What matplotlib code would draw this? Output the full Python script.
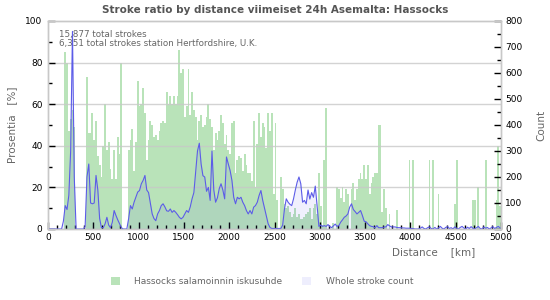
import numpy as np
import matplotlib
matplotlib.use("Agg")
import matplotlib.pyplot as plt
from matplotlib.patches import Patch
from matplotlib.ticker import MultipleLocator

plt.rcParams['font.family'] = ['DejaVu Sans']

title = "Stroke ratio by distance viimeiset 24h Asemalta: Hassocks"
note_lines = ["15,877 total strokes", "6,351 total strokes station Hertfordshire, U.K."]
series_ratio_name = "Hassocks salamoinnin iskusuhde"
series_count_name = "Whole stroke count"

bin_km = 20
# ratio [%] per 20 km bin, 0 .. 5000 km
ratio_pct = [
    0, 0, 0, 0, 0, 0, 0, 0, 0, 85, 80, 47, 53, 57, 49, 0, 0, 0, 0, 0, 0, 73, 46, 46, 56,
    43, 52, 35, 31, 25, 40, 60, 38, 42, 29, 24, 38, 24, 44, 36, 80, 0, 0, 0, 38, 43, 48, 28, 42, 71,
    59, 60, 68, 56, 33, 43, 52, 50, 44, 45, 43, 47, 51, 52, 51, 66, 60, 64, 60, 64, 60, 64, 86, 75, 77,
    54, 59, 77, 55, 66, 57, 54, 43, 52, 55, 49, 50, 54, 60, 53, 49, 38, 46, 43, 47, 55, 51, 41, 45, 38,
    36, 51, 52, 27, 33, 35, 34, 28, 36, 31, 27, 27, 23, 52, 20, 41, 56, 44, 51, 49, 39, 56, 47, 56, 17,
    51, 14, 0, 25, 19, 12, 10, 11, 8, 6, 7, 10, 6, 7, 5, 5, 6, 7, 8, 10, 5, 10, 12, 7, 27,
    11, 2, 33, 58, 0, 0, 0, 3, 0, 20, 19, 15, 20, 13, 19, 17, 0, 19, 22, 14, 19, 24, 27, 24, 31,
    24, 31, 17, 22, 25, 27, 27, 50, 50, 8, 19, 10, 0, 7, 0, 0, 0, 9, 0, 0, 0, 0, 0, 0, 33,
    0, 33, 0, 0, 0, 0, 0, 0, 0, 0, 33, 0, 33, 0, 0, 17, 0, 0, 0, 0, 0, 0, 0, 0, 12,
    33, 0, 0, 0, 0, 0, 0, 0, 0, 14, 14, 0, 20, 0, 0, 0, 33, 0, 0, 0, 0, 0, 14, 40, 11,
]
# whole stroke count per 20 km bin
stroke_count = [
    0, 0, 0, 0, 0, 0, 0, 0, 30, 90, 75, 130, 300, 760, 200, 0, 0, 0, 0, 0, 10, 200, 250, 100, 97,
    100, 206, 150, 40, 5, 5, 20, 45, 15, 5, 26, 71, 52, 35, 20, 5, 0, 0, 0, 40, 90, 77, 103, 122, 142,
    148, 174, 187, 206, 150, 140, 100, 58, 40, 32, 58, 71, 90, 97, 85, 70, 68, 77, 64, 71, 64, 55, 45, 39, 45,
    58, 71, 64, 85, 116, 140, 220, 300, 330, 250, 205, 200, 145, 160, 110, 300, 150, 103, 120, 155, 174, 150, 116, 277, 250,
    225, 187, 122, 97, 122, 116, 122, 103, 90, 71, 58, 71, 58, 84, 90, 103, 129, 148, 110, 80, 50, 20, 6, 2, 2,
    2, 2, 2, 2, 15, 77, 116, 103, 95, 90, 116, 150, 180, 200, 174, 103, 110, 97, 150, 115, 140, 122, 165, 90, 10,
    15, 10, 13, 10, 17, 10, 5, 12, 19, 10, 13, 26, 35, 45, 50, 58, 84, 97, 75, 67, 58, 64, 71, 52, 30,
    28, 20, 13, 10, 9, 5, 13, 5, 5, 5, 8, 8, 17, 12, 8, 8, 8, 6, 5, 5, 4, 4, 3, 3, 3,
    2, 2, 0, 0, 0, 3, 8, 2, 0, 5, 8, 2, 0, 6, 0, 4, 10, 3, 0, 6, 9, 2, 5, 0, 8,
    3, 0, 6, 10, 4, 0, 7, 2, 9, 3, 0, 5, 10, 2, 0, 8, 3, 6, 0, 4, 9, 2, 6, 10, 4,
]

bin_start = np.arange(len(ratio_pct)) * bin_km
bin_mid = bin_start + bin_km / 2

GREEN = "#b9e3b9"
BLUE = "#5c5ce8"
GRID = "#c8c8c8"
TXT = "#666666"

fig = plt.figure(figsize=(5.5, 3.0), dpi=100)
ax = fig.add_axes([48 / 550, 1 - 229 / 300, (501 - 48) / 550, (229 - 21) / 300])
ax2 = ax.twinx()

ax.bar(bin_start, ratio_pct, width=bin_km, align='edge', color=GREEN, linewidth=0, zorder=1)
for y in [20, 40, 60, 80]:
    ax.axhline(y, color=GRID, lw=1.0, zorder=1.5, alpha=0.8)

ax2.fill_between(bin_mid, stroke_count, 0, color="#4040e8", alpha=0.08, linewidth=0)
ax2.plot(bin_mid, stroke_count, color=BLUE, lw=0.8)

ax.set_xlim(0, 5000)
ax.set_ylim(0, 100)
ax2.set_ylim(0, 800)

ax.xaxis.set_major_locator(MultipleLocator(500))
ax.xaxis.set_minor_locator(MultipleLocator(100))
ax.yaxis.set_major_locator(MultipleLocator(20))
ax.yaxis.set_minor_locator(MultipleLocator(10))
ax2.yaxis.set_major_locator(MultipleLocator(100))
ax2.yaxis.set_minor_locator(MultipleLocator(50))

for a in (ax, ax2):
    a.tick_params(which='major', direction='in', length=5, width=1, color='black', labelsize=6.5, pad=3)
    a.tick_params(which='minor', direction='in', length=3, width=1, color='black')
    for s in a.spines.values():
        s.set_color(GRID)
        s.set_linewidth(1)
ax.tick_params(axis='y', pad=4)
ax2.tick_params(axis='y', pad=3)

ax.set_ylabel("Prosentia   [%]", color=TXT, fontsize=7.5, labelpad=6)
ax2.set_ylabel("Count", color=TXT, fontsize=7.5, labelpad=10)
ax.text(0.943, -0.11, "Distance    [km]", transform=ax.transAxes, ha='right', va='center',
        color=TXT, fontsize=7.5)

fig.text(0.5, 0.967, title, ha='center', va='center', fontsize=7.5, fontweight='bold', color='#555555')

ax.text(0.024, 0.933, note_lines[0], transform=ax.transAxes, ha='left', va='center', fontsize=6.3, color=TXT)
ax.text(0.024, 0.89, note_lines[1], transform=ax.transAxes, ha='left', va='center', fontsize=6.3, color=TXT)

handles = [Patch(facecolor=GREEN, edgecolor='none'), Patch(facecolor="#eeeefd", edgecolor='none')]
fig.legend(handles, [series_ratio_name, series_count_name], loc='center', ncol=2,
           bbox_to_anchor=(0.476, 0.063), frameon=False, fontsize=6.5, handlelength=1.0,
           handleheight=1.0, handletextpad=1.6, columnspacing=2.2, labelcolor=TXT)

fig.savefig("out.png", dpi=100)
